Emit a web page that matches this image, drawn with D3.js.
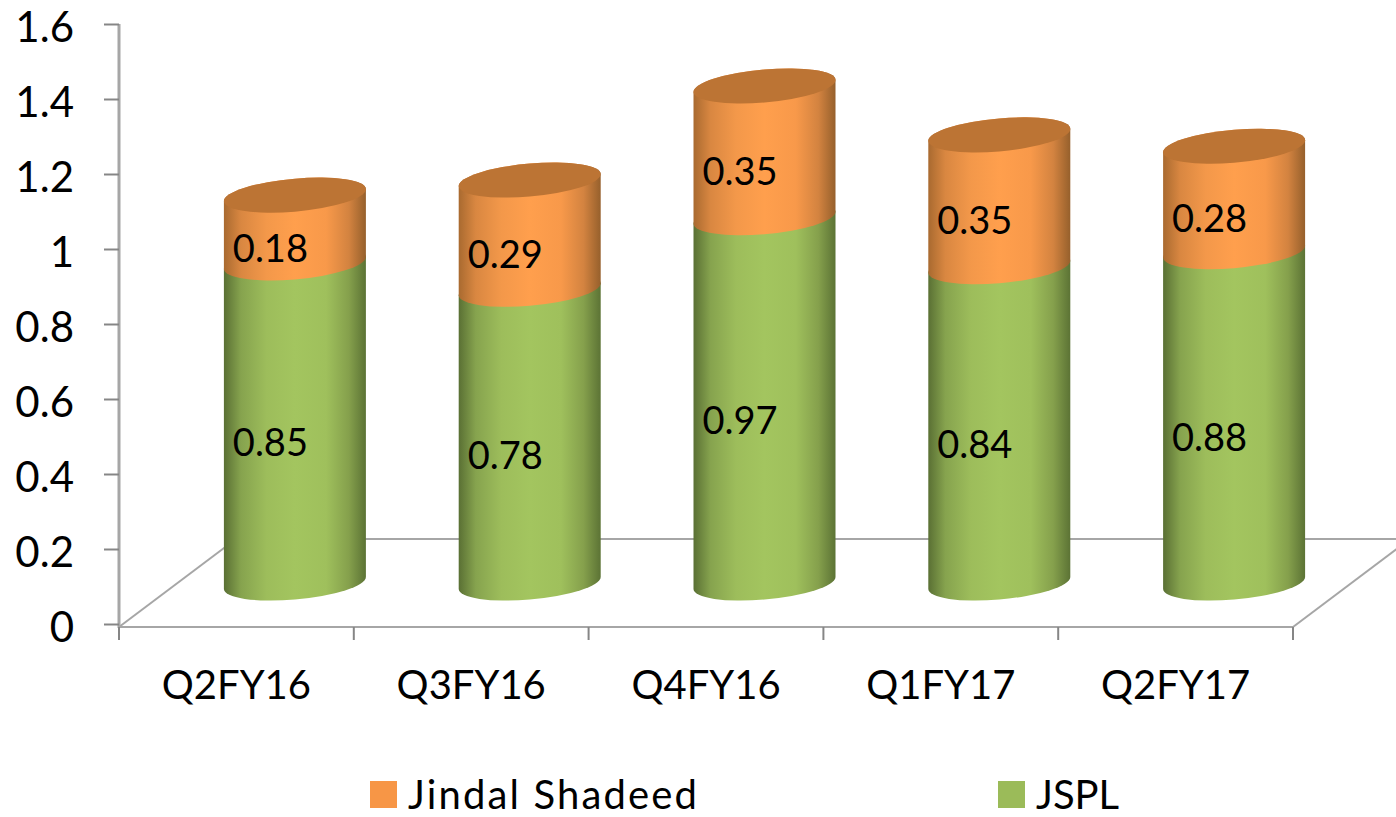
<!DOCTYPE html>
<html>
<head>
<meta charset="utf-8">
<script src="https://cdnjs.cloudflare.com/ajax/libs/d3/7.8.5/d3.min.js"></script>
<style>
  html, body { margin: 0; padding: 0; background: #fff; overflow: hidden; }
  text { font-family: Lato, "Open Sans", sans-serif; fill: #000; }
</style>
</head>
<body>
<div id="chart"></div>
<script>
var categories = ["Q2FY16", "Q3FY16", "Q4FY16", "Q1FY17", "Q2FY17"];
var jspl = [0.85, 0.78, 0.97, 0.84, 0.88];
var shadeed = [0.18, 0.29, 0.35, 0.35, 0.28];
var yTicks = [0, 0.2, 0.4, 0.6, 0.8, 1, 1.2, 1.4, 1.6];
var legendNames = ["Jindal Shadeed", "JSPL"];

var width = 1396, height = 817;

var x = d3.scaleBand().domain(categories).range([119, 1293]);
var y = d3.scaleLinear().domain([0, 1.6]).range([624, 24]);
// the cylinders stand on the 3d floor, further back than the axis
var barY = d3.scaleLinear().domain([0, 1.6]).range([583, -19.5]);

var depthX = 58.5;
var rx = 71, ry = 16.5, tilt = -4.8;

var svg = d3.select("#chart").append("svg")
    .attr("width", width)
    .attr("height", height);

var defs = svg.append("defs");
function gradient(id, stops) {
  var g = defs.append("linearGradient").attr("id", id);
  [0, 0.12, 0.3, 0.5, 0.72, 0.88, 1].forEach(function(o, i) {
    g.append("stop").attr("offset", o).attr("stop-color", stops[i]);
  });
}
gradient("greenBar", ["#5a7034", "#86a34e", "#9dbd5b", "#a3c55f", "#9fc05c", "#85a04c", "#5c7335"]);
gradient("orangeBar", ["#a96a30", "#d98741", "#f3984a", "#ff9f4d", "#f8994a", "#d38340", "#96602c"]);

// floor
var floor = svg.append("g").attr("fill", "none").attr("stroke", "#a6a6a6").attr("stroke-width", 2);
floor.append("line").attr("x1", 119).attr("y1", 627).attr("x2", 1293).attr("y2", 627);
floor.append("line").attr("x1", 119).attr("y1", 627).attr("x2", 236).attr("y2", 539);
floor.append("line").attr("x1", 1293).attr("y1", 627).attr("x2", 1410).attr("y2", 539);
floor.append("line").attr("x1", 236).attr("y1", 539).attr("x2", 1396).attr("y2", 539);

// y axis
var yAxis = svg.append("g")
    .attr("transform", "translate(119,0)")
    .call(d3.axisLeft(y).tickValues(yTicks).tickFormat(function(d) { return d; }).tickSize(15).tickPadding(30));
yAxis.select(".domain").attr("stroke", "#a6a6a6").attr("stroke-width", 3).attr("d", "M0,24V628");
yAxis.selectAll(".tick line").attr("stroke", "#868686").attr("stroke-width", 2);
yAxis.selectAll("text").attr("font-size", 42).attr("font-family", "Lato").attr("fill", "#000").attr("dy", 17.5);

// x axis
var xAxis = svg.append("g")
    .attr("transform", "translate(0,627)")
    .call(d3.axisBottom(x).tickSize(0).tickPadding(44));
xAxis.select(".domain").remove();
xAxis.selectAll("text").attr("font-size", 40).attr("font-family", "Lato").attr("fill", "#000");
x.domain().concat(["end"]).forEach(function(c, i) {
  var px = i < categories.length ? x(c) : x.range()[1];
  xAxis.append("line").attr("x1", px).attr("x2", px).attr("y1", 0).attr("y2", 13)
      .attr("stroke", "#868686").attr("stroke-width", 2);
});

function segment(y0, y1) {
  return "M" + (-rx) + "," + y1 + "L" + (-rx) + "," + y0 +
      "A" + rx + "," + ry + " 0 0 0 " + rx + "," + y0 +
      "L" + rx + "," + y1 +
      "A" + rx + "," + ry + " 0 0 0 " + (-rx) + "," + y1 + "Z";
}

var bars = svg.selectAll(".bar")
    .data(categories)
  .enter().append("g")
    .attr("class", "bar")
    .attr("transform", function(d) {
      return "translate(" + (x(d) + x.bandwidth() / 2 + depthX) + ",0)";
    });

var shapes = bars.append("g")
    .attr("transform", function(d) {
      return "translate(0," + barY(0) + ") skewY(" + tilt + ") translate(0," + (-barY(0)) + ")";
    });

shapes.append("path")
    .attr("fill", "url(#greenBar)")
    .attr("d", function(d, i) { return segment(barY(0), barY(jspl[i])); });
shapes.append("path")
    .attr("fill", "url(#orangeBar)")
    .attr("d", function(d, i) { return segment(barY(jspl[i]), barY(jspl[i] + shadeed[i])); });
shapes.append("ellipse")
    .attr("fill", "#bc7434")
    .attr("rx", rx)
    .attr("ry", ry)
    .attr("cy", function(d, i) { return barY(jspl[i] + shadeed[i]); });

// data labels
bars.append("text")
    .attr("x", -24.5)
    .attr("y", function(d, i) { return (barY(0) + barY(jspl[i])) / 2 + 20; })
    .attr("dy", ".35em")
    .attr("text-anchor", "middle")
    .attr("font-size", 38)
    .text(function(d, i) { return jspl[i]; });
bars.append("text")
    .attr("x", -24.5)
    .attr("y", function(d, i) { return (barY(jspl[i]) + barY(jspl[i] + shadeed[i])) / 2 + 20; })
    .attr("dy", ".35em")
    .attr("text-anchor", "middle")
    .attr("font-size", 38)
    .text(function(d, i) { return shadeed[i]; });

// legend
var legendX = [370, 998], legendColor = ["#f79646", "#9bbb59"], legendSpacing = [2.15, 0];
var legend = svg.selectAll(".legend")
    .data(legendNames)
  .enter().append("g")
    .attr("class", "legend")
    .attr("transform", function(d, i) { return "translate(" + legendX[i] + ",781)"; });
legend.append("rect")
    .attr("width", 27)
    .attr("height", 27)
    .attr("fill", function(d, i) { return legendColor[i]; });
legend.append("text")
    .attr("x", 38)
    .attr("y", 27.5)
    .attr("font-size", 40)
    .attr("letter-spacing", function(d, i) { return legendSpacing[i]; })
    .text(function(d) { return d; });
</script>
</body>
</html>
